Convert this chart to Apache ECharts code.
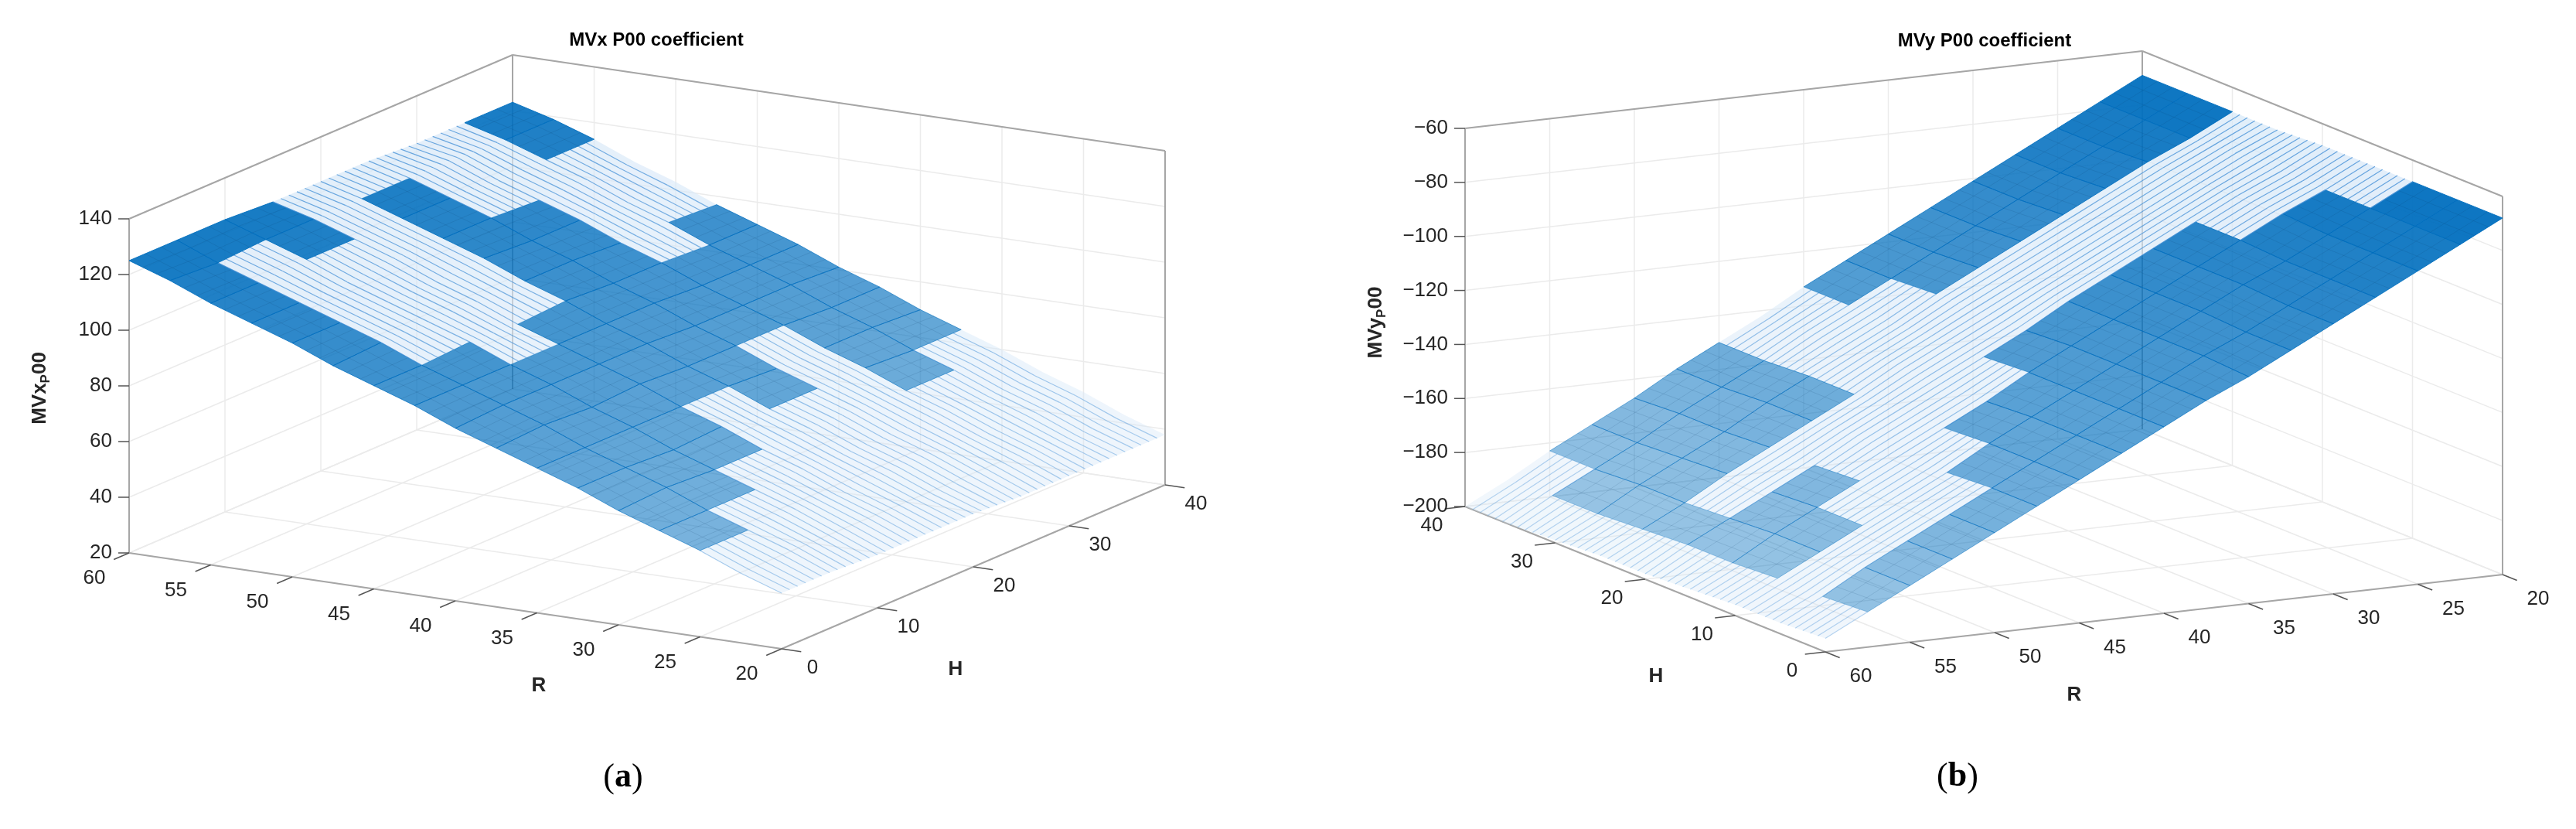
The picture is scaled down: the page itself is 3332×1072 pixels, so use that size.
<!DOCTYPE html>
<html>
<head>
<meta charset="utf-8">
<script src="https://cdn.jsdelivr.net/npm/echarts@6/dist/echarts.min.js"></script>
<style>html,body{margin:0;padding:0;background:#fff}#main{width:3332px;height:1072px}</style>
</head>
<body>
<div id="main"></div>
<script>
// grid of the fitted surfaces
var R_VALUES = [20, 22.5, 25, 27.5, 30, 32.5, 35, 37.5, 40, 42.5, 45, 47.5, 50, 52.5, 55, 57.5, 60];
var H_VALUES = [0, 5, 10, 15, 20, 25, 30, 35, 40];

// MVx P00 (rows: H, cols: R)
var MVX = [
  [40,45,51,56,61,67,72,77,82,88,93,98,104,109,114,120,125],
  [40,46,51,56,62,67,72,78,83,88,93,99,104,109,114,119,125],
  [39,45,51,56,61,66,72,77,83,88,94,99,104,109,115,120,125],
  [39,45,50,56,61,67,72,78,83,88,93,99,104,110,115,120,124],
  [39,44,50,55,61,66,72,77,83,88,94,99,105,110,115,120,124],
  [38,44,50,55,61,66,71,77,82,88,93,99,104,110,115,120,124],
  [38,44,49,55,60,66,71,77,82,87,93,98,104,109,114,120,123],
  [38,43,49,54,60,65,71,76,82,87,92,98,103,109,114,119,123],
  [38,43,49,54,60,65,70,76,81,87,92,97,103,108,114,119,123]
];
// MVy P00 (rows: H, cols: R)
var MVY = [
  [-68,-76,-84,-92,-100,-108,-116,-123,-131,-139,-147,-155,-163,-171,-179,-187,-195],
  [-68,-76,-84,-92,-100,-108,-115,-123,-131,-139,-147,-155,-163,-171,-179,-188,-196],
  [-68,-76,-84,-92,-99,-107,-115,-123,-131,-139,-147,-156,-164,-172,-180,-188,-196],
  [-68,-76,-83,-91,-99,-107,-115,-123,-131,-140,-148,-156,-164,-172,-180,-189,-197],
  [-68,-76,-83,-91,-99,-107,-115,-124,-132,-140,-148,-156,-165,-173,-181,-189,-198],
  [-69,-76,-84,-92,-100,-108,-116,-124,-132,-140,-149,-157,-165,-173,-182,-190,-198],
  [-69,-77,-84,-92,-100,-108,-116,-124,-133,-141,-149,-157,-166,-174,-182,-191,-199],
  [-69,-77,-85,-93,-101,-109,-117,-125,-133,-141,-150,-158,-166,-175,-183,-191,-200],
  [-69,-77,-85,-93,-101,-109,-117,-125,-133,-142,-150,-158,-167,-175,-183,-192,-200]
];

// which faces render dark (1) or light/hatched (0), per H band and R cell
var SHADE_A = [
  [0,0,1,1,1,1,1,1,1,1,1,1,1,1,1,1],
  [0,0,0,1,1,1,1,1,1,1,0,0,0,0,0,1],
  [0,0,0,0,1,1,1,1,1,0,0,0,0,0,1,1],
  [0,0,0,0,0,0,1,1,1,1,0,0,0,0,0,0],
  [0,0,0,0,0,1,1,1,1,1,1,1,1,1,1,0],
  [0,0,0,0,0,0,0,1,1,1,1,1,1,0,0,0],
  [0,0,0,0,1,1,1,1,1,1,0,0,0,0,0,0],
  [0,0,0,0,0,1,1,1,1,1,1,0,0,0,1,1]
];
var SHADE_B = [
  [1,1,1,1,1,1,1,1,1,1,1,1,1,1,1,0],
  [1,1,1,1,1,1,1,1,1,1,1,0,0,0,0,0],
  [0,1,1,1,1,1,1,1,1,1,0,0,0,1,1,0],
  [0,0,0,1,1,1,1,1,0,0,0,0,1,1,1,0],
  [0,0,0,0,0,0,0,0,0,0,0,0,0,0,1,0],
  [0,0,0,0,0,0,0,0,0,0,1,1,1,1,1,0],
  [1,1,1,1,1,1,1,0,0,0,1,1,1,1,1,0],
  [1,1,1,1,1,1,1,1,0,0,1,1,1,1,0,0]
];

var R_TICKS = [60, 55, 50, 45, 40, 35, 30, 25, 20];
var H_TICKS = [0, 10, 20, 30, 40];
var Z_TICKS_A = [20, 40, 60, 80, 100, 120, 140];
var Z_TICKS_B = [-200, -180, -160, -140, -120, -100, -80, -60];

// view of each box (orthographic, pixels)
var panels = [
  {O: [167, 715], vR: [844, 124], vH: [496, -212], vZ: [0, -432], z0: 20, z1: 140, Z: MVX, S: SHADE_A,
   zTicks: Z_TICKS_A, rOff: [-45, 33], hOff: [40, 25], sideR: 60},
  {O: [2361, 843], vR: [876, -100], vH: [-466, -188], vZ: [0, -489], z0: -200, z1: -60, Z: MVY, S: SHADE_B,
   zTicks: Z_TICKS_B, rOff: [46, 32], hOff: [-43, 25], sideR: 20}
];

function proj(p, R, H, z) {
  var t = (60 - R) / 40, u = H / 40, w = (z - p.z0) / (p.z1 - p.z0);
  return [p.O[0] + t * p.vR[0] + u * p.vH[0] + w * p.vZ[0],
          p.O[1] + t * p.vR[1] + u * p.vH[1] + w * p.vZ[1]];
}

var faces = [];
panels.forEach(function (p, pi) {
  for (var j = 0; j < H_VALUES.length - 1; j++)
    for (var i = 0; i < R_VALUES.length - 1; i++) faces.push([pi, i, j]);
});

// box lines: [panel, R1,H1,z1, R2,H2,z2, kind]
var lines = [];
panels.forEach(function (p, pi) {
  var rb = p.sideR, ro = 80 - rb;
  p.zTicks.forEach(function (z) {
    lines.push([pi, rb, 0, z, rb, 40, z, 0]);
    lines.push([pi, 20, 40, z, 60, 40, z, 0]);
  });
  H_TICKS.forEach(function (h) {
    lines.push([pi, rb, h, p.z0, rb, h, p.z1, 0]);
    lines.push([pi, 20, h, p.z0, 60, h, p.z0, 0]);
  });
  R_TICKS.forEach(function (r) {
    lines.push([pi, r, 40, p.z0, r, 40, p.z1, 0]);
    lines.push([pi, r, 0, p.z0, r, 40, p.z0, 0]);
  });
  lines.push([pi, 60, 0, p.z0, 20, 0, p.z0, 1]);
  lines.push([pi, ro, 0, p.z0, ro, 40, p.z0, 1]);
  lines.push([pi, rb, 0, p.z0, rb, 0, p.z1, 1]);
  lines.push([pi, rb, 0, p.z1, rb, 40, p.z1, 1]);
  lines.push([pi, rb, 40, p.z1, ro, 40, p.z1, 1]);
  lines.push([pi, rb, 40, p.z0, rb, 40, p.z1, 1]);
  lines.push([pi, ro, 40, p.z0, ro, 40, p.z1, 1]);
});

// ticks: [panel, axis(0 R,1 H,2 z), value]
var ticks = [];
panels.forEach(function (p, pi) {
  R_TICKS.forEach(function (v) { ticks.push([pi, 0, v]); });
  H_TICKS.forEach(function (v) { ticks.push([pi, 1, v]); });
  p.zTicks.forEach(function (v) { ticks.push([pi, 2, v]); });
});

var chart = echarts.init(document.getElementById('main'));
var FONT = 'Liberation Sans, Arial, sans-serif';

function lerp(a, b, f) { return [a[0] + (b[0] - a[0]) * f, a[1] + (b[1] - a[1]) * f]; }

var option = {
  animation: false,
  grid: {left: 0, right: 0, top: 0, bottom: 0},
  xAxis: {type: 'value', min: 0, max: 3332, show: false},
  yAxis: {type: 'value', min: 0, max: 1072, inverse: true, show: false},
  series: [
    {
      type: 'custom', data: lines, z: 1,
      renderItem: function (params, api) {
        var p = panels[api.value(0)];
        var a = api.coord(proj(p, api.value(1), api.value(2), api.value(3)));
        var b = api.coord(proj(p, api.value(4), api.value(5), api.value(6)));
        var edge = api.value(7) === 1;
        return {type: 'line', shape: {x1: a[0], y1: a[1], x2: b[0], y2: b[1]},
          style: {stroke: edge ? '#a6a6a6' : '#ebebeb', lineWidth: edge ? 2 : 1.5}};
      }
    },
    {
      type: 'custom', data: faces, z: 2,
      renderItem: function (params, api) {
        var pi = api.value(0), i = api.value(1), j = api.value(2);
        var p = panels[pi], Z = p.Z;
        var c = [[i, j], [i + 1, j], [i + 1, j + 1], [i, j + 1]].map(function (q) {
          return api.coord(proj(p, R_VALUES[q[0]], H_VALUES[q[1]], Z[q[1]][q[0]]));
        });
        var zm = (Z[j][i] + Z[j][i + 1] + Z[j + 1][i] + Z[j + 1][i + 1]) / 4;
        var w = (zm - p.z0) / (p.z1 - p.z0);
        var kids = [];
        if (p.S[j][i]) {
          var al = 0.35 + 0.65 * w;
          kids.push({type: 'polygon', shape: {points: c},
            style: {fill: 'rgba(0,110,190,' + al.toFixed(3) + ')', stroke: 'rgba(0,110,190,' + al.toFixed(3) + ')', lineWidth: 1}});
          // faint mesh inside dark faces
          for (var k = 1; k < 3; k++) {
            var f = k / 3;
            var a1 = lerp(c[0], c[3], f), b1 = lerp(c[1], c[2], f);
            var a2 = lerp(c[0], c[1], f), b2 = lerp(c[3], c[2], f);
            kids.push({type: 'line', shape: {x1: a1[0], y1: a1[1], x2: b1[0], y2: b1[1]}, style: {stroke: 'rgba(10,50,90,0.12)', lineWidth: 1}});
            kids.push({type: 'line', shape: {x1: a2[0], y1: a2[1], x2: b2[0], y2: b2[1]}, style: {stroke: 'rgba(10,50,90,0.12)', lineWidth: 1}});
          }
        } else {
          kids.push({type: 'polygon', shape: {points: c},
            style: {fill: 'rgba(215,232,248,' + (0.35 + 0.4 * w).toFixed(3) + ')', stroke: 'none'}});
          var sa = (0.35 + 0.5 * w).toFixed(3);
          for (var m = 0; m < 6; m++) {
            var g = m / 6;
            var p1 = lerp(c[0], c[3], g), p2 = lerp(c[1], c[2], g);
            kids.push({type: 'line', shape: {x1: p1[0], y1: p1[1], x2: p2[0], y2: p2[1]}, style: {stroke: 'rgba(70,145,215,' + sa + ')', lineWidth: 1.2}});
          }
        }
        return {type: 'group', children: kids};
      }
    },
    {
      type: 'custom', data: ticks, z: 3,
      renderItem: function (params, api) {
        var pi = api.value(0), ax = api.value(1), v = api.value(2), p = panels[pi];
        var a, b, tx, ty, align = 'center';
        if (ax === 0) {
          a = proj(p, v, 0, p.z0); b = [a[0] - p.vH[0] * 0.04, a[1] - p.vH[1] * 0.04];
          tx = a[0] + p.rOff[0]; ty = a[1] + p.rOff[1];
        } else if (ax === 1) {
          a = proj(p, 80 - p.sideR, v, p.z0);
          var s = pi === 0 ? 0.03 : -0.03;
          b = [a[0] + p.vR[0] * s, a[1] + p.vR[1] * s];
          tx = a[0] + p.hOff[0]; ty = a[1] + p.hOff[1];
        } else {
          a = pi === 0 ? proj(p, 60, 0, v) : proj(p, 60, 40, v);
          b = [a[0] - 14, a[1]];
          tx = a[0] - 22; ty = a[1]; align = 'right';
        }
        var A = api.coord(a), B = api.coord(b), T = api.coord([tx, ty]);
        var label = v < 0 ? '\u2212' + Math.abs(v) : String(v);
        return {type: 'group', children: [
          {type: 'line', shape: {x1: A[0], y1: A[1], x2: B[0], y2: B[1]}, style: {stroke: '#555', lineWidth: 1.5}},
          {type: 'text', x: T[0], y: T[1], style: {text: label, fill: '#262626', font: '26px ' + FONT,
            align: align, verticalAlign: 'middle'}}
        ]};
      }
    }
  ],
  graphic: [
    {type: 'text', x: 849, y: 52, style: {text: 'MVx P00 coefficient', font: 'bold 24px ' + FONT, fill: '#000', align: 'center', verticalAlign: 'middle'}},
    {type: 'text', x: 2567, y: 53, style: {text: 'MVy P00 coefficient', font: 'bold 24px ' + FONT, fill: '#000', align: 'center', verticalAlign: 'middle'}},
    {type: 'text', x: 697, y: 887, style: {text: 'R', font: 'bold 26px ' + FONT, fill: '#262626', align: 'center', verticalAlign: 'middle'}},
    {type: 'text', x: 1236, y: 866, style: {text: 'H', font: 'bold 26px ' + FONT, fill: '#262626', align: 'center', verticalAlign: 'middle'}},
    {type: 'text', x: 2683, y: 899, style: {text: 'R', font: 'bold 26px ' + FONT, fill: '#262626', align: 'center', verticalAlign: 'middle'}},
    {type: 'text', x: 2142, y: 875, style: {text: 'H', font: 'bold 26px ' + FONT, fill: '#262626', align: 'center', verticalAlign: 'middle'}},
    {type: 'text', x: 52, y: 502, rotation: Math.PI / 2, style: {
      text: '{m|MVx}{s|P}{m|00}', align: 'center', verticalAlign: 'middle', fill: '#262626',
      rich: {m: {font: 'bold 26px ' + FONT, fill: '#262626'}, s: {font: 'bold 17px ' + FONT, fill: '#262626', padding: [14, 0, 0, 0]}}}},
    {type: 'text', x: 1780, y: 417, rotation: Math.PI / 2, style: {
      text: '{m|MVy}{s|P}{m|00}', align: 'center', verticalAlign: 'middle', fill: '#262626',
      rich: {m: {font: 'bold 26px ' + FONT, fill: '#262626'}, s: {font: 'bold 17px ' + FONT, fill: '#262626', padding: [14, 0, 0, 0]}}}},
    {type: 'text', x: 806, y: 1006, style: {text: '({b|a})', font: '44px Liberation Serif, serif', fill: '#000', align: 'center', verticalAlign: 'middle',
      rich: {b: {font: 'bold 44px Liberation Serif, serif', fill: '#000'}}}},
    {type: 'text', x: 2532, y: 1005, style: {text: '({b|b})', font: '44px Liberation Serif, serif', fill: '#000', align: 'center', verticalAlign: 'middle',
      rich: {b: {font: 'bold 44px Liberation Serif, serif', fill: '#000'}}}}
  ]
};
chart.setOption(option);
</script>
</body>
</html>
